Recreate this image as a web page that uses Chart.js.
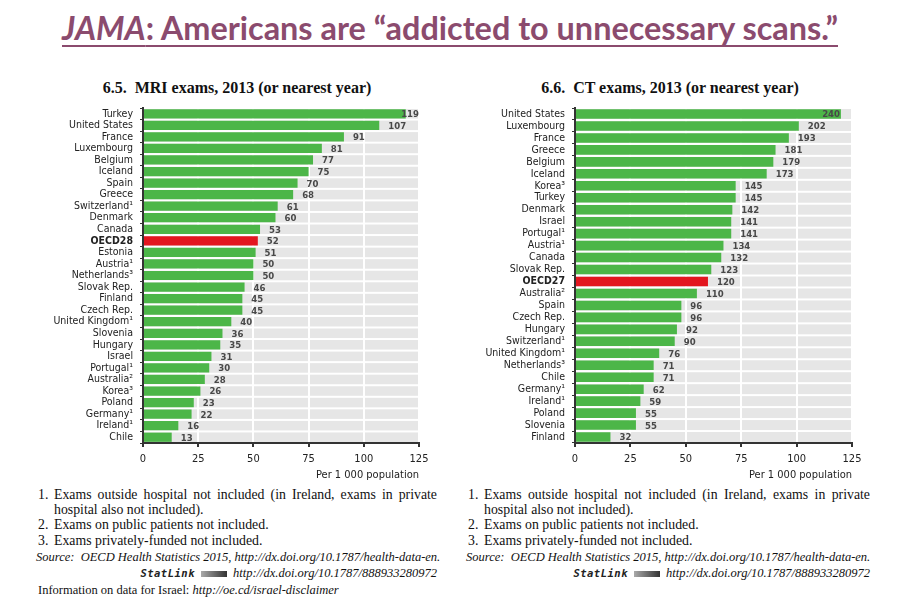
<!DOCTYPE html>
<html>
<head>
<meta charset="utf-8">
<script src="https://cdn.jsdelivr.net/npm/chart.js@4.4.0/dist/chart.umd.min.js"></script>
<style>
  html, body { margin:0; padding:0; background:#fff; }
  body { width:900px; height:608px; position:relative; overflow:hidden; }
  #mainTitle { position:absolute; left:62px; top:9px; white-space:nowrap; transform-origin:0 0;
    font-family: Lato, 'Open Sans', sans-serif; font-weight:700; color:#8b4b6e; font-size:32px;
    text-decoration: underline; text-decoration-thickness:2px; text-underline-offset:5px;
    text-decoration-skip-ink:none; line-height:1.2; }
  .ctitle { position:absolute; top:78px; width:400px; text-align:center; white-space:nowrap;
    font-family:'Liberation Serif', 'DejaVu Serif', serif; font-weight:bold; font-size:16px; color:#111; line-height:20px; }
  canvas { position:absolute; }
  .fn { position:absolute; font-family:'Liberation Serif', 'DejaVu Serif', serif; font-size:13.8px; color:#111; white-space:nowrap; line-height:14px; }
  .num { display:inline-block; width:16px; }
  .just { text-align:justify; text-align-last:justify; white-space:normal; }
  .it { font-style:italic; font-size:12.5px; }
  .sl { font-family:'DejaVu Sans Mono', monospace; font-style:italic; font-weight:bold; font-size:10.5px; letter-spacing:0.5px; color:#222; }
  .ico { display:inline-block; width:26px; height:6px; background:linear-gradient(90deg,#aaa,#333); margin:0 6px 1px 6px; vertical-align:middle; }
</style>
</head>
<body>
<div id="mainTitle"><i>JAMA</i>: Americans are “addicted to unnecessary scans.”</div>
<div class="ctitle" style="left:37px">6.5.&nbsp; MRI exams, 2013 (or nearest year)</div>
<div class="ctitle" style="left:470px">6.6.&nbsp; CT exams, 2013 (or nearest year)</div>
<canvas id="mri" width="406" height="410" style="left:34px;top:74px;width:406px;height:410px"></canvas>
<canvas id="ct" width="400" height="410" style="left:470px;top:74px;width:400px;height:410px"></canvas>

<div class="fn" style="left:38px;top:488px;width:399px"><span class="num">1.</span><span class="just" style="display:inline-block;width:383px;vertical-align:top">Exams outside hospital not included (in Ireland, exams in private</span></div>
<div class="fn" style="left:54px;top:503px">hospital also not included).</div>
<div class="fn" style="left:38px;top:518px"><span class="num">2.</span>Exams on public patients not included.</div>
<div class="fn" style="left:38px;top:534px"><span class="num">3.</span>Exams privately-funded not included.</div>
<div class="fn it" style="left:36px;top:550px">Source:&nbsp; OECD Health Statistics 2015, http://dx.doi.org/10.1787/health-data-en.</div>
<div class="fn it" style="right:463px;top:566px"><span class="sl">StatLink</span><span class="ico"></span>http://dx.doi.org/10.1787/888933280972</div>
<div class="fn" style="left:38px;top:583px;font-size:12.5px">Information on data for Israel: <span class="it">http://oe.cd/israel-disclaimer</span></div>

<div class="fn" style="left:468px;top:488px;width:402px"><span class="num">1.</span><span class="just" style="display:inline-block;width:386px;vertical-align:top">Exams outside hospital not included (in Ireland, exams in private</span></div>
<div class="fn" style="left:484px;top:503px">hospital also not included).</div>
<div class="fn" style="left:468px;top:518px"><span class="num">2.</span>Exams on public patients not included.</div>
<div class="fn" style="left:468px;top:534px"><span class="num">3.</span>Exams privately-funded not included.</div>
<div class="fn it" style="left:466px;top:550px">Source:&nbsp; OECD Health Statistics 2015, http://dx.doi.org/10.1787/health-data-en.</div>
<div class="fn it" style="right:30px;top:566px"><span class="sl">StatLink</span><span class="ico"></span>http://dx.doi.org/10.1787/888933280972</div>

<script>
// ---------- DATA ----------
const mriCountries = ["Turkey","United States","France","Luxembourg","Belgium","Iceland","Spain","Greece","Switzerland¹","Denmark","Canada","OECD28","Estonia","Austria¹","Netherlands³","Slovak Rep.","Finland","Czech Rep.","United Kingdom¹","Slovenia","Hungary","Israel","Portugal¹","Australia²","Korea³","Poland","Germany¹","Ireland¹","Chile"];
const mriValues = [119,107,91,81,77,75,70,68,61,60,53,52,51,50,50,46,45,45,40,36,35,31,30,28,26,23,22,16,13];
const mriHighlight = "OECD28";
const mriTickLabels = ["0","25","50","75","100","125"];

const ctCountries = ["United States","Luxembourg","France","Greece","Belgium","Iceland","Korea³","Turkey","Denmark","Israel","Portugal¹","Austria¹","Canada","Slovak Rep.","OECD27","Australia²","Spain","Czech Rep.","Hungary","Switzerland¹","United Kingdom¹","Netherlands³","Chile","Germany¹","Ireland¹","Poland","Slovenia","Finland"];
const ctValues = [240,202,193,181,179,173,145,145,142,141,141,134,132,123,120,110,96,96,92,90,76,71,71,62,59,55,55,32];
const ctHighlight = "OECD27";
const ctTickLabels = ["0","25","50","75","100","125"];

// ---------- STYLE ----------
const NARROW = "'Liberation Sans Narrow', 'DejaVu Sans Condensed', 'Arial Narrow', sans-serif";
const GREEN = '#4cb648', RED = '#e3161f', BAND = '#e6e6e6', DARK = '#333333';

// fit main title width (condensed look)
(function(){
  const t = document.getElementById('mainTitle');
  const w = t.getBoundingClientRect().width;
  t.style.transform = 'scaleX(' + (776 / w) + ')';
})();

function makeChart(id, labels, values, highlight, max, step, tickLabels, yWidth, rightPad, clampOffset) {
  const bands = {
    id: 'bands',
    beforeDraw(chart) {
      const a = chart.chartArea, ys = chart.scales.y, ctx = chart.ctx;
      const h = (a.bottom - a.top) / labels.length;
      ctx.save();
      ctx.fillStyle = BAND;
      labels.forEach((l, i) => {
        const cy = ys.getPixelForValue(i);
        ctx.fillRect(a.left, cy - h / 2 + 1, a.right - a.left, h - 2);
      });
      ctx.restore();
    }
  };
  const valueLabels = {
    id: 'valueLabels',
    afterDatasetsDraw(chart) {
      const ctx = chart.ctx, a = chart.chartArea;
      const meta = chart.getDatasetMeta(0);
      ctx.save();
      ctx.font = 'bold 9.5px ' + NARROW;
      ctx.fillStyle = '#484848';
      ctx.textBaseline = 'middle';
      meta.data.forEach((el, i) => {
        const txt = String(values[i]);
        const w = ctx.measureText(txt).width;
        let x = el.x + 9;
        if (x + w > a.right) x = a.right - w - clampOffset;
        ctx.fillText(txt, x, el.y + 1);
      });
      ctx.restore();
    }
  };
  return new Chart(document.getElementById(id), {
    type: 'bar',
    data: {
      labels: labels,
      datasets: [{
        data: values,
        backgroundColor: labels.map(l => l === highlight ? RED : GREEN),
        borderWidth: 0,
        barPercentage: 0.8,
        categoryPercentage: 1.0
      }]
    },
    options: {
      indexAxis: 'y',
      responsive: false,
      animation: false,
      layout: { padding: { left: 0, right: rightPad, top: 34, bottom: 0 } },
      plugins: {
        legend: { display: false },
        tooltip: { enabled: false },
        title: { display: false }
      },
      scales: {
        x: {
          min: 0, max: max,
          ticks: { stepSize: step, autoSkip: false, maxRotation: 0, color: '#222', padding: 6,
                   font: { family: NARROW, size: 11 },
                   callback: (v, i) => tickLabels[i] },
          grid: { color: '#ffffff', lineWidth: 2, tickColor: DARK, tickLength: 4, tickWidth: 2 },
          border: { display: true, color: DARK, width: 2 },
          title: { display: true, text: 'Per 1 000 population', align: 'end', color: '#222',
                   font: { family: NARROW, size: 11 }, padding: { top: 0, bottom: 2 } },
          afterFit: s => { s.height = 41; }
        },
        y: {
          ticks: { autoSkip: false, color: '#222', padding: 7,
                   font: ctx => ({ family: NARROW, size: 10.5, weight: labels[ctx.index] === highlight ? 'bold' : 'normal' }) },
          grid: { drawOnChartArea: false, tickColor: DARK, tickLength: 3, tickWidth: 1 },
          border: { display: true, color: DARK, width: 2 },
          afterFit: s => { s.width = yWidth; }
        }
      }
    },
    plugins: [bands, valueLabels]
  });
}

makeChart('mri', mriCountries, mriValues, mriHighlight, 125, 25, mriTickLabels, 109, 21, 0);
makeChart('ct', ctCountries, ctValues, ctHighlight, 250, 50, ctTickLabels, 105, 18, 12);
</script>
</body>
</html>
